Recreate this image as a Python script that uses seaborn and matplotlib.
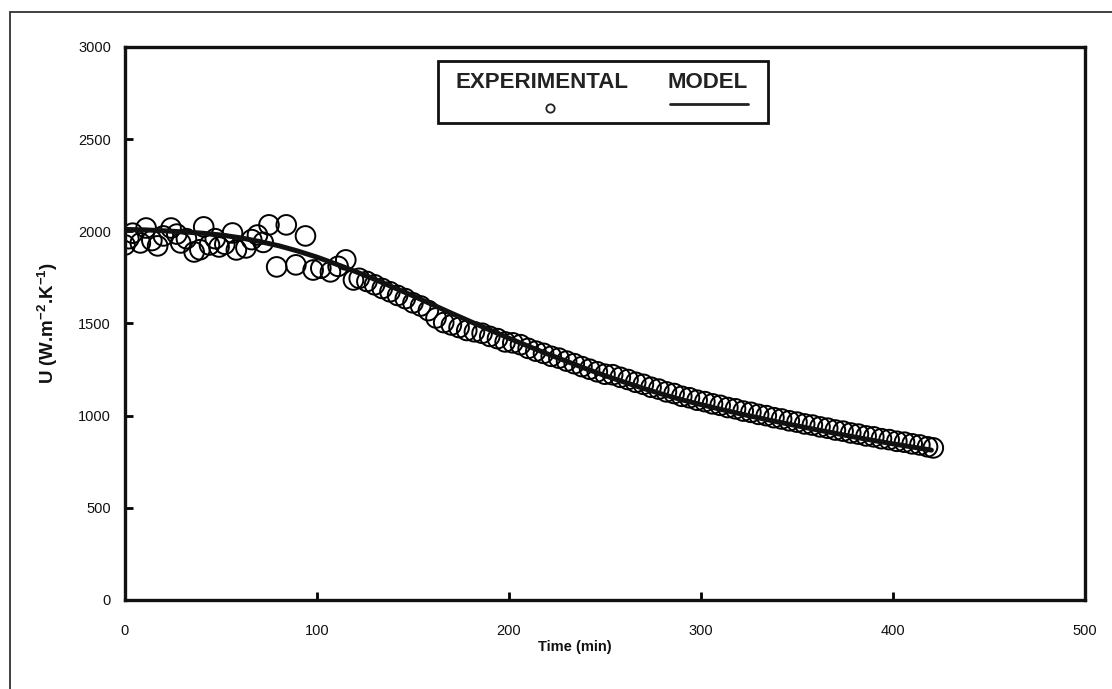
import matplotlib
matplotlib.use("Agg")
import matplotlib.pyplot as plt
import seaborn as sns
import pandas as pd
from matplotlib.patches import Rectangle
from matplotlib.lines import Line2D

# ---------------- data ----------------
exp_time = [0, 2, 4, 8, 11, 14, 17, 20, 24, 27, 29, 32, 36, 39, 41, 44, 47, 49, 52,
            56, 58, 63, 66, 69, 72, 75, 79, 84, 89, 94, 98, 102, 107, 111, 115, 119,
            122, 126, 130, 134, 138, 142, 146, 150, 154, 158, 162, 166, 170, 174, 178,
            182, 186, 190, 194, 198, 202, 206, 210, 214, 218, 222, 226, 230, 234, 238,
            242, 246, 250,
            254, 258, 262, 266, 270, 274, 278, 282, 286, 290, 294, 298,
            302, 306, 310, 314, 318, 322, 326, 330, 334, 338, 342, 346, 350, 354, 358,
            362, 366, 370, 374, 378, 382, 386, 390, 394, 398, 402, 406, 410, 414, 418, 421]
exp_U = [1926, 1960, 1990, 1937, 2018, 1950, 1921, 1975, 2018, 1985, 1937, 1960, 1888, 1900,
         2024, 1926, 1960, 1915, 1930, 1991, 1899, 1910, 1955, 1980, 1940, 2035, 1807, 2035,
         1818, 1975, 1790, 1800, 1780, 1810, 1845, 1736,
         1745, 1728, 1710, 1690, 1672, 1652, 1635, 1612, 1595, 1570, 1530, 1505, 1492, 1478,
         1462, 1455, 1447, 1430, 1418, 1400, 1395, 1385, 1365, 1350, 1338, 1322, 1312, 1296,
         1282, 1266, 1252, 1238, 1225,
         1222, 1208, 1196, 1181, 1170, 1154, 1144, 1129, 1120, 1105, 1097, 1084, 1076, 1064,
         1056, 1044, 1037, 1025, 1018, 1007, 1000, 989, 982, 972, 965, 955, 949, 939, 932,
         922, 916, 906, 900, 890, 885, 875, 870, 861, 856, 847, 841, 831, 825]

model_time = [0, 10, 20, 30, 40, 50, 60, 70, 80, 90, 100, 110, 120, 130, 140, 150, 160,
              170, 180, 190, 200, 210, 220, 230, 240, 250, 260, 270, 280, 290, 300, 310,
              320, 330, 340, 350, 360, 370, 380, 390, 400, 410, 420]
model_U = [2010, 2008, 2003, 1997, 1990, 1980, 1965, 1945, 1922, 1893, 1860, 1822, 1782,
           1740, 1695, 1650, 1603, 1556, 1510, 1465, 1420, 1377, 1335, 1295, 1255, 1217,
           1182, 1148, 1116, 1086, 1060, 1035, 1011, 988, 966, 945, 924, 904, 884, 865,
           847, 830, 813]

x_ticks = [0, 100, 200, 300, 400, 500]
y_ticks = [0, 500, 1000, 1500, 2000, 2500, 3000]

exp_df = pd.DataFrame({"t": exp_time, "U": exp_U})
model_df = pd.DataFrame({"t": model_time, "U": model_U})

# ---------------- style ----------------
sns.set_theme(style="white")
plt.rcParams["font.family"] = ["Liberation Sans", "DejaVu Sans"]
plt.rcParams["mathtext.fontset"] = "custom"
plt.rcParams["mathtext.rm"] = "Liberation Sans"
plt.rcParams["mathtext.bf"] = "Liberation Sans:bold"

fig = plt.figure(figsize=(11.12, 6.89), dpi=100)
ax = fig.add_axes([0.1124, 0.1292, 0.8633, 0.8026])

sns.scatterplot(data=exp_df, x="t", y="U", ax=ax, marker="o", s=200,
                facecolor="none", edgecolor="black", linewidth=1.4, zorder=2,
                legend=False)
sns.lineplot(data=model_df, x="t", y="U", ax=ax, color="#111111", linewidth=3.6,
             zorder=3, legend=False)

ax.set_xlim(0, 500)
ax.set_ylim(0, 3000)
ax.set_xticks(x_ticks)
ax.set_yticks(y_ticks)
ax.tick_params(axis="both", direction="in", length=6, width=2, color="black",
               labelsize=10.5, labelcolor="#111111", top=False, right=False,
               bottom=True, left=True)
ax.tick_params(axis="y", pad=10)
ax.tick_params(axis="x", pad=17)

for sp in ax.spines.values():
    sp.set_visible(True)
    sp.set_color("#111111")
    sp.set_linewidth(2.4)

ax.set_xlabel("Time (min)", fontsize=10.5, fontweight="bold", color="#111111")
ax.xaxis.set_label_coords(0.469, -0.073)
ax.set_ylabel(r"U (W.m$^{\mathbf{-2}}$.K$^{\mathbf{-1}}$)", fontsize=13.5,
              fontweight="bold", color="#111111", labelpad=13)

# ---------------- legend (custom box) ----------------
lx0, ly0, lw, lh = 0.3260, 0.8626, 0.3437, 0.1121
ax.add_patch(Rectangle((lx0, ly0), lw, lh, transform=ax.transAxes, fill=False,
                       edgecolor="#111111", linewidth=2.0, zorder=5))
ax.text(0.4344, 0.9349, "EXPERIMENTAL", transform=ax.transAxes, ha="center",
        va="center", fontsize=16, fontweight="bold", color="#222222", zorder=6)
ax.text(0.6068, 0.9349, "MODEL", transform=ax.transAxes, ha="center",
        va="center", fontsize=16, fontweight="bold", color="#222222", zorder=6)
ax.add_line(Line2D([0.4427], [0.8897], transform=ax.transAxes, marker="o",
                   markersize=6, markerfacecolor="none", markeredgecolor="#222222",
                   markeredgewidth=1.3, linestyle="none", zorder=6))
ax.add_line(Line2D([0.5677, 0.6490], [0.8969, 0.8969], transform=ax.transAxes,
                   color="#222222", linewidth=2.0, zorder=6))

# ---------------- outer frame ----------------
fig.patches.append(Rectangle((10 / 1112, -0.05), 1.1, 1 - 12 / 689 + 0.05,
                             transform=fig.transFigure, fill=False,
                             edgecolor="#333333", linewidth=1.3, clip_on=False))

fig.savefig("out.png", dpi=100, facecolor="white")
